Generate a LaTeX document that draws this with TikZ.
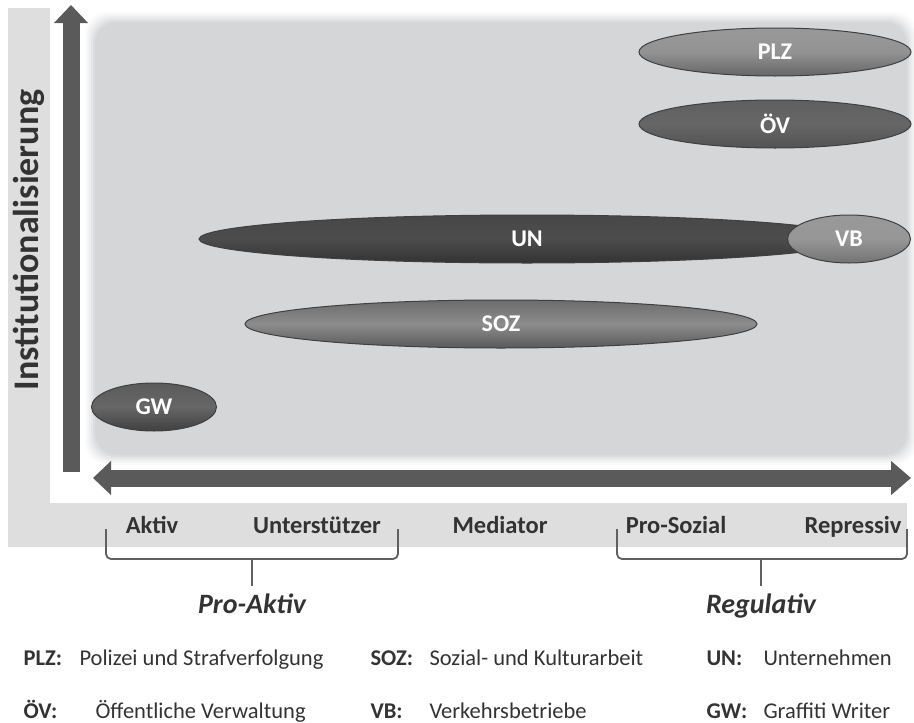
\documentclass[tikz,border=0pt]{standalone}
\usepackage{fontspec}
\setmainfont{Carlito}
\usetikzlibrary{arrows.meta,shapes.geometric}
\definecolor{frame}{HTML}{DEDEDE}
\definecolor{panel}{HTML}{D5D6D8}
\definecolor{arrowc}{HTML}{5A5A5A}
\definecolor{bracec}{HTML}{606060}
\definecolor{txt}{HTML}{333333}
\tikzset{
  ell/.style={ellipse, inner sep=0pt, draw=black!75, line width=1pt,
    text=white, font=\fontsize{24}{28}\selectfont\bfseries, minimum height=48pt},
  axlab/.style={font=\fontsize{24.5}{28}\selectfont\bfseries, text=txt, anchor=base},
  grp/.style={font=\fontsize{28}{32}\selectfont\bfseries\itshape, text=txt, anchor=base},
  legk/.style={font=\fontsize{22.5}{26}\selectfont\bfseries, text=txt, anchor=base west},
  legv/.style={font=\fontsize{22.5}{26}\selectfont, text=txt, anchor=base west},
  bracel/.style={draw=bracec, line width=1.8pt, rounded corners=5pt},
  bigarrow/.style={draw=arrowc, line width=17pt}
}
\begin{document}
\begin{tikzpicture}[x=1pt,y=-1pt]
\useasboundingbox (0,0) rectangle (914,723);
% L-shaped light frame
\fill[frame] (8,8) rectangle (50,547);
\fill[frame] (8,503) rectangle (907,547);
% soft panel
\foreach \i/\o in {10/0.10,8/0.15,6/0.22,4/0.35,2/0.55,0/1}{
  \fill[panel, opacity=\o, rounded corners=22pt] (95-\i,22-\i) rectangle (907+\i,455+\i);
}
% axes arrows
\coordinate (vb0) at (71,472);
\coordinate (vb1) at (71,5);
\coordinate (hl) at (93,478);
\coordinate (hr) at (911,478);
\draw[bigarrow, -{Triangle[length=18pt,width=33pt]}] (vb0) -- (vb1);
\draw[bigarrow, {Triangle[length=18pt,width=33pt]}-{Triangle[length=20pt,width=33pt]}] (hl) -- (hr);
% y label
\node[rotate=90, font=\fontsize{36}{40}\selectfont\bfseries, text=txt] (ylab) at (29,240) {Institutionalisierung};
% ellipses
\node[ell, minimum width=272pt, top color=gray!80, bottom color=gray!80!black, middle color=gray!85] (plz) at (775,52) {PLZ};
\node[ell, minimum width=272pt, top color=gray!75!black, bottom color=gray!65!black, middle color=gray!80!black] (ov) at (775,124) {ÖV};
\node[ell, minimum width=656pt, top color=black!72, bottom color=black!80, middle color=black!70] (un) at (527,239) {UN};
\node[ell, minimum width=123pt, top color=gray!80, bottom color=gray!90!black, middle color=gray!82] (vb) at (849,239) {VB};
\node[ell, minimum width=512pt, top color=gray!85!black, bottom color=gray!70!black, middle color=gray!90] (soz) at (501,324) {SOZ};
\node[ell, minimum width=125pt, top color=black!64, bottom color=black!75, middle color=black!60] (gw) at (154,407) {GW};
% axis labels
\node[axlab] (aktiv) at (152,533) {Aktiv};
\node[axlab] (unter) at (317,533) {Unterstützer};
\node[axlab] (medi) at (500,533) {Mediator};
\node[axlab] (pros) at (676,533) {Pro-Sozial};
\node[axlab] (repr) at (853,533) {Repressiv};
% braces
\coordinate (b1a) at (106,529);
\coordinate (b1b) at (106,559);
\coordinate (b1c) at (398,559);
\coordinate (b1d) at (398,529);
\coordinate (b1m) at (252,559);
\coordinate (b1t) at (252,586);
\draw[bracel] (b1a) -- (b1b) -- (b1c) -- (b1d);
\draw[bracel] (b1m) -- (b1t);
\coordinate (b2a) at (617,529);
\coordinate (b2b) at (617,559);
\coordinate (b2c) at (907,559);
\coordinate (b2d) at (907,529);
\coordinate (b2m) at (761,559);
\coordinate (b2t) at (761,586);
\draw[bracel] (b2a) -- (b2b) -- (b2c) -- (b2d);
\draw[bracel] (b2m) -- (b2t);
\node[grp] (proa) at (252,613) {Pro-Aktiv};
\node[grp] (regu) at (761,613) {Regulativ};
% legend
\node[legk] (k1) at (20,665) {PLZ:};
\node[legv] (v1) at (76,665) {Polizei und Strafverfolgung};
\node[legk] (k2) at (367,665) {SOZ:};
\node[legv] (v2) at (426,665) {Sozial- und Kulturarbeit};
\node[legk] (k3) at (703,665) {UN:};
\node[legv] (v3) at (760,665) {Unternehmen};
\node[legk] (k4) at (20,718) {ÖV:};
\node[legv] (v4) at (92,718) {Öffentliche Verwaltung};
\node[legk] (k5) at (367,718) {VB:};
\node[legv] (v5) at (426,718) {Verkehrsbetriebe};
\node[legk] (k6) at (703,718) {GW:};
\node[legv] (v6) at (760,718) {Graffiti Writer};
\end{tikzpicture}
\end{document}
